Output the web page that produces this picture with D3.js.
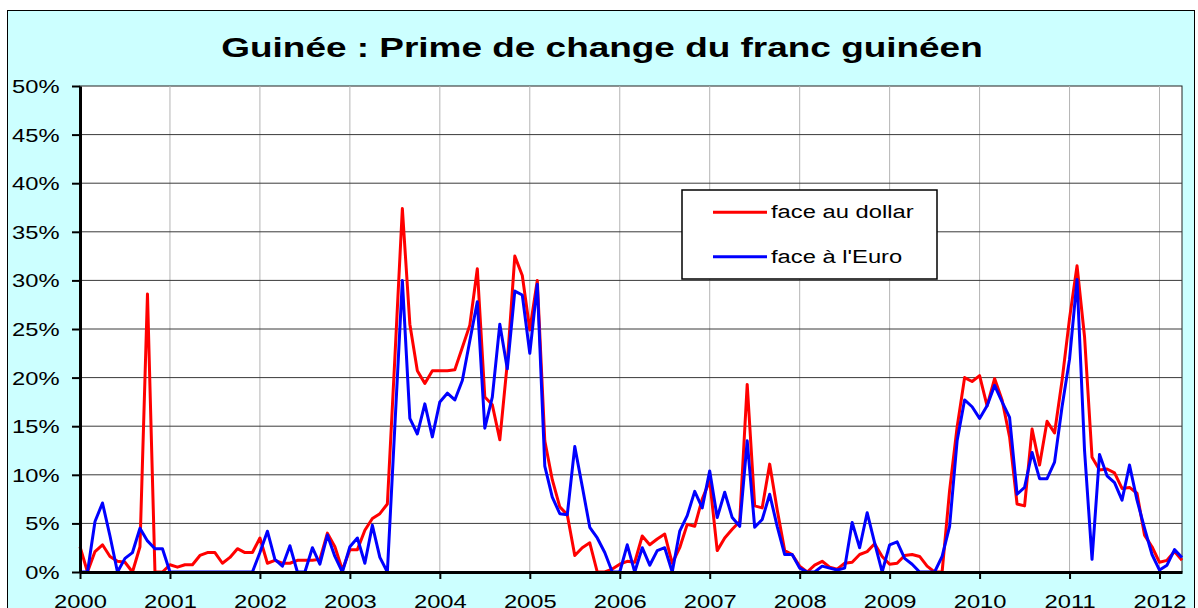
<!DOCTYPE html>
<html>
<head>
<meta charset="utf-8">
<script src="https://cdn.jsdelivr.net/npm/d3@7"></script>
<style>
  body { margin: 0; background: #fff; }
  svg { display: block; font-family: 'Liberation Sans', Arial, sans-serif; }
</style>
</head>
<body>
<div class="chart"></div>
<script>
  const width = 1198;
  const height = 608;
  const margin = {
    top: 86,
    right: 16,
    bottom: 36,
    left: 80,
  }
  // the original picture is stretched sideways, text too
  const stretch = 1.32

  const title = 'Guinée : Prime de change du franc guinéen'
  const years = ['2000', '2001', '2002', '2003', '2004', '2005', '2006',
    '2007', '2008', '2009', '2010', '2011', '2012']
  const yTicks = [0, 5, 10, 15, 20, 25, 30, 35, 40, 45, 50]

  // monthly premium, % (Jan 2000 .. Apr 2012)
  const dollar = [
    2.6, 0, 2.1, 2.8, 1.6, 1.1, 1.0, 0, 2.6, 28.6, 0, 0,
    0.75, 0.5, 0.75, 0.75, 1.7, 2.0, 2.0, 0.9, 1.5, 2.4, 2.0, 2.0,
    3.5, 0.9, 1.2, 0.9, 0.9, 1.2, 1.2, 1.2, 1.3, 4.0, 2.6, 0.2,
    2.3, 2.3, 4.3, 5.5, 6.0, 7.0, 22.0, 37.4, 25.5, 20.7, 19.4, 20.7,
    20.7, 20.7, 20.8, 23.1, 25.4, 31.2, 18.0, 17.2, 13.6, 21.5, 32.5, 30.5,
    24.9, 30.0, 13.5, 9.5, 6.7, 5.9, 1.7, 2.5, 3.0, 0, 0, 0.3,
    0.8, 1.1, 1.0, 3.7, 2.8, 3.4, 3.9, 0.9, 2.5, 4.9, 4.7, 7.5,
    9.4, 2.2, 3.5, 4.4, 5.2, 19.3, 6.8, 6.6, 11.1, 6.4, 2.2, 1.8,
    0.6, 0, 0.7, 1.1, 0.5, 0.3, 0.9, 1.0, 1.8, 2.1, 2.9, 1.6,
    0.8, 0.9, 1.7, 1.8, 1.6, 0.6, 0, 0, 8.4, 14.9, 20.0, 19.6,
    20.2, 17.1, 19.9, 17.7, 13.9, 7.0, 6.8, 14.7, 11.0, 15.5, 14.3, 19.7,
    26.1, 31.5, 24.2, 11.8, 10.5, 10.6, 10.2, 8.6, 8.7, 8.1, 3.8, 2.6,
    1.0, 1.2, 2.1, 1.2,
  ]

  const euro = [
    0, 0, 5.2, 7.1, 3.7, 0, 1.4, 2.0, 4.5, 3.2, 2.4, 2.4,
    0, 0, 0, 0, 0, 0, 0, 0, 0, 0, 0, 0,
    2.0, 4.2, 1.3, 0.6, 2.7, 0, 0, 2.5, 0.8, 3.8, 1.6, 0,
    2.6, 3.5, 0.9, 4.8, 1.5, 0, 15.0, 30.0, 15.8, 14.2, 17.3, 13.9,
    17.5, 18.4, 17.7, 19.7, 23.8, 27.8, 14.8, 18.0, 25.5, 20.9, 28.9, 28.5,
    22.5, 29.6, 10.9, 7.7, 6.0, 5.9, 12.9, 8.8, 4.6, 3.5, 2.0, 0,
    0, 2.8, 0, 2.5, 0.7, 2.2, 2.5, 0, 4.2, 5.8, 8.3, 6.6,
    10.4, 5.6, 8.2, 5.6, 4.7, 13.5, 4.6, 5.4, 8.0, 4.7, 1.8, 1.8,
    0.4, 0, 0, 0.6, 0.4, 0.2, 0.4, 5.1, 2.5, 6.1, 3.0, 0,
    2.8, 3.1, 1.4, 0.8, 0, 0, 0, 1.6, 4.7, 13.5, 17.7, 17.0,
    15.8, 17.1, 19.2, 17.5, 15.9, 8.0, 8.7, 12.3, 9.6, 9.6, 11.3, 17.0,
    21.9, 30.1, 12.5, 1.3, 12.1, 9.9, 9.2, 7.4, 11.0, 7.4, 4.5, 1.8,
    0.2, 0.7, 2.3, 1.5,
  ]

  const series = [
    { name: 'face au dollar', values: dollar, color: '#ff0000' },
    { name: "face à l'Euro", values: euro, color: '#0000ff' },
  ]

  chart()

function chart(){
      const xScale = d3.scaleLinear()
        .domain([0, dollar.length - 1])
        .range([margin.left, width - margin.right])

      const yScale = d3.scaleLinear()
        .domain([0, 50])
        .range([height - margin.bottom, margin.top])

      const svg = d3.select('.chart').append('svg')
        .attr('width', width)
        .attr('height', height)

      // outer frame
      svg.append('rect')
        .attr('x', 7.5)
        .attr('y', 10.5)
        .attr('width', 1187)
        .attr('height', 640)
        .attr('fill', '#ccffff')
        .attr('stroke', '#000')

      svg.append('text')
        .attr('transform', `translate(602, 56.7) scale(${stretch}, 1)`)
        .attr('text-anchor', 'middle')
        .attr('font-size', '28px')
        .attr('font-weight', 'bold')
        .text(title)

      // plot area
      svg.append('rect')
        .attr('x', margin.left)
        .attr('y', margin.top)
        .attr('width', width - margin.right - margin.left)
        .attr('height', height - margin.bottom - margin.top)
        .attr('fill', '#fff')
        .attr('stroke', '#222')

      const yearIdx = years.map((d, i) => i * 12)

      svg.append('g')
        .attr('class', 'v-grid')
        .selectAll('line')
        .data(yearIdx.slice(1))
        .join('line')
        .attr('x1', d => xScale(d))
        .attr('x2', d => xScale(d))
        .attr('y1', margin.top)
        .attr('y2', height - margin.bottom)
        .attr('stroke', '#b4b4b4')

      svg.append('g')
        .attr('class', 'h-grid')
        .selectAll('line')
        .data(yTicks.slice(1, -1))
        .join('line')
        .attr('x1', margin.left)
        .attr('x2', width - margin.right)
        .attr('y1', d => yScale(d))
        .attr('y2', d => yScale(d))
        .attr('stroke', '#3a3a3a')

      const line = d3.line()
        .x((d, i) => xScale(i))
        .y(d => yScale(d))

      svg.append('g')
        .attr('class', 'lines')
        .selectAll('path')
        .data(series)
        .join('path')
        .attr('d', d => line(d.values))
        .attr('fill', 'none')
        .attr('stroke', d => d.color)
        .attr('stroke-width', 3)
        .attr('stroke-linejoin', 'round')

      const yAxis = d3.axisLeft(yScale)
        .tickValues(yTicks)
        .tickFormat(d => d + '%')
        .tickSize(8)
        .tickSizeOuter(0)

      const yG = svg.append('g')
        .attr('class', 'y-axis')
        .attr('transform', `translate(${margin.left}, 0)`)
        .call(yAxis)
      yG.select('.domain').attr('stroke-width', 3)
      yG.selectAll('.tick line').attr('stroke-width', 2)
      yG.selectAll('.tick text')
        .attr('x', -20.5 / stretch)
        .attr('dy', '0.36em')
        .attr('transform', `scale(${stretch}, 1)`)
        .attr('fill', '#000')
        .style('font-size', '18px')
        .style('font-family', "'Liberation Sans', Arial, sans-serif")

      const xAxis = d3.axisBottom(xScale)
        .tickValues(yearIdx)
        .tickFormat((d, i) => years[i])
        .tickSize(7)
        .tickSizeOuter(0)

      const xG = svg.append('g')
        .attr('class', 'x-axis')
        .attr('transform', `translate(0, ${height - margin.bottom})`)
        .call(xAxis)
      xG.select('.domain').attr('stroke-width', 3)
      xG.selectAll('.tick line').attr('stroke-width', 2)
      xG.selectAll('.tick text')
        .attr('y', 23)
        .attr('dy', '0.71em')
        .attr('transform', `scale(${stretch}, 1)`)
        .attr('fill', '#000')
        .style('font-size', '18px')
        .style('font-family', "'Liberation Sans', Arial, sans-serif")

      // legend
      const legend = svg.append('g')
        .attr('class', 'legend')
        .attr('transform', 'translate(682, 190)')

      legend.append('rect')
        .attr('width', 255)
        .attr('height', 89)
        .attr('fill', '#fff')
        .attr('stroke', '#000')
        .attr('stroke-width', 1.5)

      const item = legend.selectAll('g')
        .data(series)
        .join('g')
        .attr('transform', (d, i) => `translate(0, ${22.3 + i * 44.4})`)

      item.append('line')
        .attr('x1', 31)
        .attr('x2', 85)
        .attr('stroke', d => d.color)
        .attr('stroke-width', 3)

      item.append('text')
        .attr('transform', `translate(89, 6) scale(${stretch}, 1)`)
        .attr('font-size', '18px')
        .text(d => d.name)
}
</script>
</body>
</html>
